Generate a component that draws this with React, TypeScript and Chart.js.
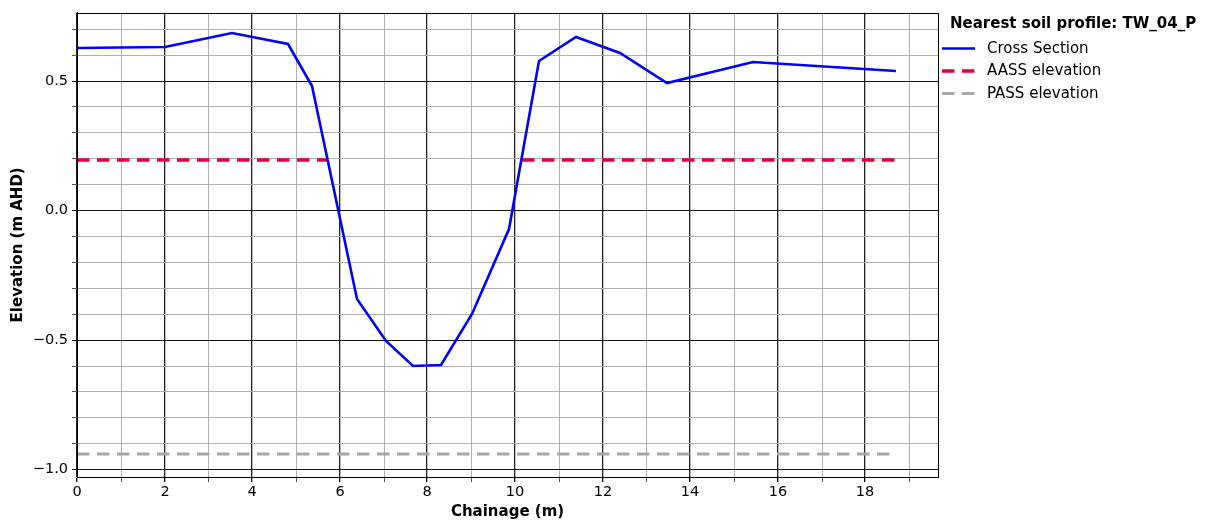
import React, { useEffect, useRef } from "react";
import { Chart, registerables } from "chart.js";
Chart.register(...registerables);

const legendTitle = "Nearest soil profile: TW_04_P";
const xTitle = "Chainage (m)";
const yTitle = "Elevation (m AHD)";

const chainage = [0, 2.01, 3.55, 4.81, 5.37, 6.4, 7.06, 7.67, 8.32, 9.03, 9.86, 10.56, 11.39, 12.41, 13.48, 15.43, 18.71];
const elevation = [0.626, 0.63, 0.683, 0.643, 0.478, -0.343, -0.504, -0.602, -0.597, -0.401, -0.071, 0.575, 0.667, 0.607, 0.489, 0.572, 0.536];

const aassChainage = [0, 5.73, 7.9, 10.15, 18.71];
const aassElevation = [0.193, 0.193, null, 0.193, 0.193];

const passChainage = [0, 18.71];
const passElevation = [-0.942, -0.942];

const xTicks = [0, 1, 2, 3, 4, 5, 6, 7, 8, 9, 10, 11, 12, 13, 14, 15, 16, 17, 18, 19];
const xMajorTicks = [0, 2, 4, 6, 8, 10, 12, 14, 16, 18];
const yTicks = [-1.0, -0.9, -0.8, -0.7, -0.6, -0.5, -0.4, -0.3, -0.2, -0.1, 0.0, 0.1, 0.2, 0.3, 0.4, 0.5, 0.6, 0.7];
const yMajorTicks = [-1.0, -0.5, 0.0, 0.5];

const FONT = "'DejaVu Sans', sans-serif";

const isMajor = (list: number[], v: number) => list.some((m) => Math.abs(m - v) < 1e-6);
const pts = (xs: number[], ys: (number | null)[]) => xs.map((x, i) => ({ x, y: ys[i] }));

const frameAndLegend = {
  id: "frameAndLegend",
  afterDatasetsDraw(chart: any) {
    const { ctx, chartArea: a } = chart;
    ctx.save();
    ctx.strokeStyle = "#000";
    ctx.lineWidth = 1;
    ctx.strokeRect(Math.round(a.left) + 0.5, Math.round(a.top) + 0.5, Math.round(a.right - a.left), Math.round(a.bottom - a.top));
    ctx.restore();
  },
  afterDraw(chart: any) {
    const { ctx } = chart;
    ctx.save();
    ctx.fillStyle = "#000";
    ctx.textBaseline = "middle";
    ctx.textAlign = "left";
    ctx.font = `bold 15px ${FONT}`;
    ctx.fillText(legendTitle, 950, 24.5);
    ctx.font = `15px ${FONT}`;
    chart.data.datasets.forEach((ds: any, i: number) => {
      const y = 48.5 + i * 22.5;
      ctx.beginPath();
      ctx.strokeStyle = ds.borderColor;
      ctx.lineWidth = ds.borderWidth;
      ctx.setLineDash(ds.borderDash || []);
      ctx.moveTo(942, y);
      ctx.lineTo(975, y);
      ctx.stroke();
      ctx.setLineDash([]);
      ctx.fillStyle = "#000";
      ctx.fillText(ds.label, 987, y + 0.5);
    });
    ctx.restore();
  },
};

export default function App() {
  const ref = useRef<HTMLCanvasElement>(null);
  useEffect(() => {
    if (!ref.current) return;
    const chart = new Chart(ref.current, {
      type: "line",
      data: {
        datasets: [
          {
            label: "Cross Section",
            data: pts(chainage, elevation),
            borderColor: "#0000ff",
            borderWidth: 2.6,
            pointRadius: 0,
            tension: 0,
          },
          {
            label: "AASS elevation",
            data: pts(aassChainage, aassElevation),
            borderColor: "#e4003c",
            borderWidth: 3.5,
            borderDash: [12.5, 7.5],
            pointRadius: 0,
            spanGaps: false,
          },
          {
            label: "PASS elevation",
            data: pts(passChainage, passElevation),
            borderColor: "#a6a6a6",
            borderWidth: 3,
            borderDash: [12.5, 7.5],
            pointRadius: 0,
          },
        ],
      } as any,
      options: {
        animation: false,
        responsive: false,
        devicePixelRatio: 1,
        layout: { padding: { left: 0, top: 12, right: 278, bottom: 0 } },
        plugins: { legend: { display: false }, tooltip: { enabled: false } },
        scales: {
          x: {
            type: "linear",
            min: 0,
            max: 19.66,
            alignToPixels: true,
            afterBuildTicks: (s: any) => {
              s.ticks = xTicks.map((v) => ({ value: v }));
            },
            afterFit: (s: any) => {
              s.height = 48;
            },
            ticks: {
              autoSkip: false,
              maxRotation: 0,
              padding: 2,
              color: "#000",
              font: { family: FONT, size: 14.5 },
              callback: (v: any) => (isMajor(xMajorTicks, v) ? String(v) : ""),
            },
            grid: {
              color: (c: any) => (c.tick && isMajor(xMajorTicks, c.tick.value) ? "#222" : "#b0b0b0"),
              tickColor: (c: any) => (c.tick && isMajor(xMajorTicks, c.tick.value) ? "#000" : "#555"),
              lineWidth: (c: any) => (c.tick && isMajor(xMajorTicks, c.tick.value) ? 1.3 : 1),
              tickLength: 5,
            },
            border: { display: true, color: "#000", width: 1 },
            title: {
              display: true,
              text: xTitle,
              color: "#000",
              font: { family: FONT, size: 15, weight: "bold" },
              padding: { top: 0, bottom: 4 },
            },
          },
          y: {
            type: "linear",
            min: -1.03,
            max: 0.762,
            alignToPixels: true,
            afterBuildTicks: (s: any) => {
              s.ticks = yTicks.map((v) => ({ value: v }));
            },
            afterFit: (s: any) => {
              s.width = 77;
            },
            ticks: {
              autoSkip: false,
              padding: 4,
              color: "#000",
              font: { family: FONT, size: 14.5 },
              callback: (v: any) => (isMajor(yMajorTicks, v) ? Number(v).toFixed(1).replace("-", "\u2212") : ""),
            },
            grid: {
              color: (c: any) => (c.tick && isMajor(yMajorTicks, c.tick.value) ? "#111" : "#b0b0b0"),
              tickColor: (c: any) => (c.tick && isMajor(yMajorTicks, c.tick.value) ? "#000" : "#555"),
              lineWidth: 1,
              tickLength: 5,
            },
            border: { display: true, color: "#000", width: 1 },
            title: {
              display: true,
              text: yTitle,
              color: "#000",
              font: { family: FONT, size: 15, weight: "bold" },
              padding: { top: 9, bottom: 0 },
            },
          },
        },
      } as any,
      plugins: [frameAndLegend],
    });
    return () => chart.destroy();
  }, []);
  return (
    <div style={{ position: "absolute", left: 0, top: 0, width: 1216, height: 525, background: "#fff" }}>
      <canvas ref={ref} width={1216} height={525} style={{ display: "block" }} />
    </div>
  );
}
